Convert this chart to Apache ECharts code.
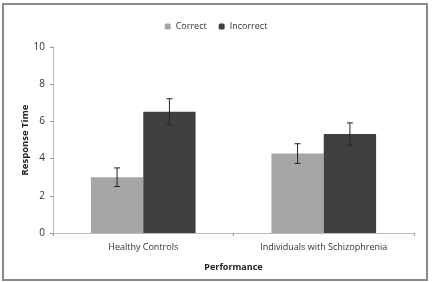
<!DOCTYPE html>
<html>
<head>
<meta charset="utf-8">
<script src="https://cdn.jsdelivr.net/npm/echarts@6/dist/echarts.min.js"></script>
<style>
  html, body { margin: 0; padding: 0; background: #fff; }
  #chart { width: 432px; height: 282px; }
</style>
</head>
<body>
<div id="chart"></div>
<script>
var groups = ['Healthy Controls', 'Individuals with Schizophrenia'];
var correct = [3.0, 4.27];
var incorrect = [6.52, 5.32];
var correctErr = [0.5, 0.53];
var incorrectErr = [0.7, 0.6];

var myChart = echarts.init(document.getElementById('chart'));

// error bars drawn on top of the grouped bars (2 bars, no gap, 42% category gap)
var errSeries = function (name, values, errs, slot) {
    var data = values.map(function (v, i) { return [i, v - errs[i], v + errs[i]]; });
    return {
        name: name + ' err',
        type: 'custom',
        z: 10,
        silent: true,
        data: data,
        renderItem: function (params, api) {
            var bandW = api.size([1, 0])[0];
            var barW = bandW * 0.58 / 2;
            var cx = api.coord([api.value(0), 0])[0] + (slot - 0.5) * barW;
            var lo = api.coord([api.value(0), api.value(1)])[1];
            var hi = api.coord([api.value(0), api.value(2)])[1];
            var cap = 3;
            var st = { stroke: '#222', lineWidth: 1 };
            return {
                type: 'group',
                children: [
                    { type: 'line', shape: { x1: cx, y1: lo, x2: cx, y2: hi }, style: st },
                    { type: 'line', shape: { x1: cx - cap, y1: hi, x2: cx + cap, y2: hi }, style: st },
                    { type: 'line', shape: { x1: cx - cap, y1: lo, x2: cx + cap, y2: lo }, style: st }
                ]
            };
        }
    };
};

var option = {
    animation: false,
    textStyle: { fontFamily: 'Open Sans', color: '#222' },
    graphic: [{
        type: 'rect',
        shape: { x: 3, y: 4, width: 424, height: 276 },
        style: { fill: 'none', stroke: '#8a8a8a', lineWidth: 2 },
        silent: true
    }],
    legend: {
        top: 17,
        left: 'center',
        itemWidth: 6,
        itemHeight: 6,
        itemGap: 12,
        textStyle: { fontSize: 9, color: '#333', fontFamily: 'Open Sans' },
        data: ['Correct', 'Incorrect']
    },
    grid: { left: 53, right: 18, top: 47, bottom: 49 },
    xAxis: {
        type: 'category',
        data: groups,
        name: 'Performance',
        nameLocation: 'middle',
        nameGap: 30,
        nameTextStyle: { fontWeight: 'bold', fontSize: 9, color: '#222' },
        axisLine: { lineStyle: { color: '#bbb' } },
        axisTick: { show: true, length: 3, lineStyle: { color: '#999' } },
        axisLabel: { fontSize: 9, color: '#333', margin: 10 }
    },
    yAxis: {
        type: 'value',
        min: 0,
        max: 10,
        interval: 2,
        name: 'Response Time',
        nameLocation: 'middle',
        nameGap: 23,
        nameMoveOverlap: false,
        nameTextStyle: { fontWeight: 'bold', fontSize: 9.5, color: '#222' },
        axisLine: { show: true, lineStyle: { color: '#bbb' } },
        axisTick: { show: true, length: 3, lineStyle: { color: '#999' } },
        splitLine: { show: false },
        axisLabel: { fontSize: 10, color: '#333', margin: 8 }
    },
    series: [
        {
            name: 'Correct',
            type: 'bar',
            data: correct,
            barGap: '0%',
            barCategoryGap: '42%',
            itemStyle: { color: '#a6a6a6' }
        },
        {
            name: 'Incorrect',
            type: 'bar',
            data: incorrect,
            itemStyle: { color: '#404040' }
        },
        errSeries('Correct', correct, correctErr, 0),
        errSeries('Incorrect', incorrect, incorrectErr, 1)
    ]
};

myChart.setOption(option);
</script>
</body>
</html>
